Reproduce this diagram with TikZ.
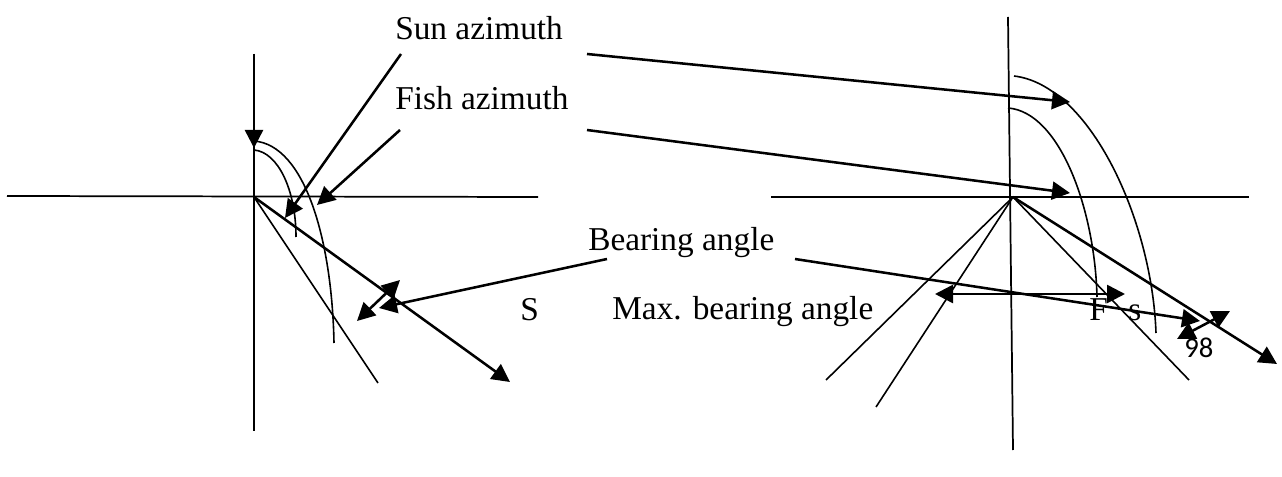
\documentclass[tikz,border=0pt]{standalone}
\usepackage{fontspec}
\setmainfont{Liberation Serif}
\newfontfamily\numfont{Carlito}
\usepackage{xcolor}
\usetikzlibrary{arrows.meta}

\tikzset{
  axisline/.style={line width=1.3pt},
  arcline/.style={line width=1.2pt},
  ptr/.style={line width=1.9pt, -{Triangle[length=13.5pt,width=13.5pt]}},
  dptr/.style={line width=1.9pt, {Triangle[length=13.5pt,width=13.5pt]}-{Triangle[length=13.5pt,width=13.5pt]}},
  lbl/.style={inner sep=0pt, font=\fontsize{25}{28}\selectfont, anchor=base west}
}

\begin{document}
\begin{tikzpicture}[x=.75pt,y=-.75pt]
\useasboundingbox (0,0) rectangle (1282,477);

% labels
\node[lbl] (sun) at (395,40) {Sun azimuth};
\node[lbl] (fish) at (395,110) {Fish azimuth};
\node[lbl] (bearing) at (588,251) {Bearing angle};
\node[lbl] (sS) at (520,321) {S};
\node[lbl] (maxb) at (612,320) {Max. bearing angle};
\node[lbl] (fF) at (1089,321) {F};
\node[lbl] (fs) at (1128,321) {s};
\node[lbl,font=\numfont\fontsize{21.5}{24}\selectfont] (num) at (1184,358) {98};

% left figure
\coordinate (oL) at (254,197);
\coordinate (topL) at (254,54);
\coordinate (tipL) at (254,148);
\draw[axisline] (7,196) -- (538,197);
\draw[axisline] (topL) -- (254,431);
\draw[ptr] (topL) -- (tipL);
\draw[arcline] (254,141) .. controls (305,145) and (332,240) .. (334,343);
\draw[arcline] (254,150) .. controls (278,152) and (296,190) .. (296,237);
\draw[ptr] (oL) -- (510,382);
\draw[arcline] (oL) -- (378,383);
\draw[dptr] (357,321) -- (400,280);
\draw[ptr] (401,54) -- (285,218);
\draw[ptr] (400,130) -- (317,205);
\draw[ptr] (607,259) -- (379,308);

% right figure
\coordinate (oR) at (1013,197);
\draw[axisline] (771,197) -- (1249,197);
\draw[axisline] (1008,17) -- (1013,450);
\draw[arcline] (1014,76) .. controls (1090,85) and (1152,220) .. (1156,333);
\draw[arcline] (1008,108) .. controls (1060,112) and (1095,210) .. (1097,297);
\draw[ptr] (587,54) -- (1070,102);
\draw[ptr] (587,130) -- (1070,193);
\draw[ptr] (oR) -- (1277,364);
\draw[arcline] (oR) -- (1189,380);
\draw[arcline] (oR) -- (826,380);
\draw[arcline] (oR) -- (876,407);
\draw[dptr] (935,294) -- (1125,294);
\draw[ptr] (795,259) -- (1200,321);
\draw[dptr] (1177,339) -- (1230,311);
\end{tikzpicture}
\end{document}
